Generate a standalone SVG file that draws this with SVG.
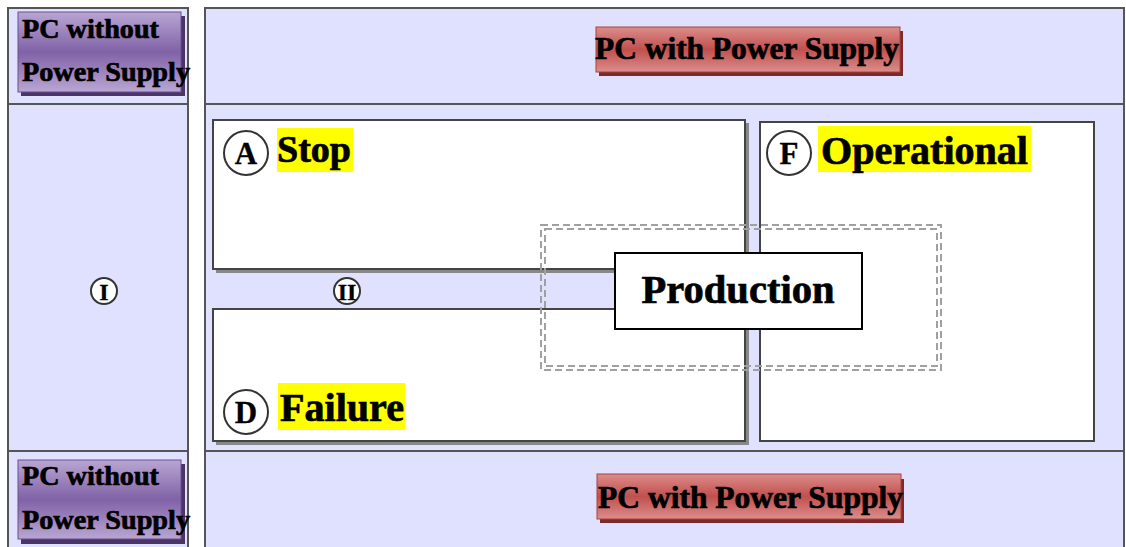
<svg xmlns="http://www.w3.org/2000/svg" width="1126" height="547" viewBox="0 0 1126 547">
  <defs>
    <linearGradient id="purpleFill" x1="0" y1="0" x2="0" y2="1">
      <stop offset="0" stop-color="#b9a6d3"/>
      <stop offset="0.5" stop-color="#8062a6"/>
      <stop offset="1" stop-color="#b9a6d3"/>
    </linearGradient>
    <linearGradient id="redFill" x1="0" y1="0" x2="0" y2="1">
      <stop offset="0" stop-color="#dc8d8b"/>
      <stop offset="0.5" stop-color="#c0504d"/>
      <stop offset="1" stop-color="#dc8d8b"/>
    </linearGradient>
  </defs>
  <style>
    .panel { fill: #e0e0ff; stroke: #555; stroke-width: 2; }
    .divider { stroke: #555; stroke-width: 2; }
    .state { fill: #fff; stroke: #444; stroke-width: 2; }
    .shadow { fill: #888; }
    .lbl { font-family: "Liberation Serif", "Times New Roman", serif; font-weight: bold; fill: #000; stroke: #000; stroke-width: 0.7; }
    .letter { font-family: "Liberation Serif", "Times New Roman", serif; font-weight: bold; fill: #000; stroke: #000; stroke-width: 0.3; }
    .badge { fill: #fff; stroke: #333; stroke-width: 2; }
    .hl { fill: #ffff00; }
    .dash { fill: none; stroke: #a0a0a0; stroke-width: 2; stroke-dasharray: 7 4; }
    .pbtn { fill: url(#purpleFill); stroke: #6a4f8f; stroke-width: 1; }
    .pshadow { fill: #4a3468; }
    .rbtn { fill: url(#redFill); stroke: #a84340; stroke-width: 1; }
    .rshadow { fill: #7a2a28; }
  </style>

  <rect width="1126" height="547" fill="#fff"/>

  <!-- background panels -->
  <g id="left-column">
    <rect class="panel" x="8" y="8" width="180" height="560"/>
    <line class="divider" x1="8" y1="104" x2="188" y2="104"/>
    <line class="divider" x1="8" y1="451" x2="188" y2="451"/>
  </g>
  <g id="right-area">
    <rect class="panel" x="205" y="8" width="919" height="560"/>
    <line class="divider" x1="205" y1="104" x2="1124" y2="104"/>
    <line class="divider" x1="205" y1="451" x2="1124" y2="451"/>
  </g>

  <!-- power supply buttons -->
  <g id="pc-without-top">
    <rect class="pshadow" x="21" y="16" width="164" height="80"/>
    <rect class="pbtn" x="18" y="12" width="163" height="80"/>
    <text class="lbl" x="22" y="38" font-size="28" textLength="137" lengthAdjust="spacingAndGlyphs">PC without</text>
    <text class="lbl" x="22" y="81" font-size="28" textLength="168" lengthAdjust="spacingAndGlyphs">Power Supply</text>
  </g>
  <g id="pc-without-bottom">
    <rect class="pshadow" x="21" y="464" width="164" height="80"/>
    <rect class="pbtn" x="18" y="460" width="163" height="79"/>
    <text class="lbl" x="22" y="485" font-size="28" textLength="137" lengthAdjust="spacingAndGlyphs">PC without</text>
    <text class="lbl" x="22" y="529" font-size="28" textLength="168" lengthAdjust="spacingAndGlyphs">Power Supply</text>
  </g>
  <g id="pc-with-top">
    <rect class="rshadow" x="599" y="31" width="304" height="45"/>
    <rect class="rbtn" x="596" y="27" width="304" height="45"/>
    <text class="lbl" x="595" y="59" font-size="31" textLength="304" lengthAdjust="spacingAndGlyphs">PC with Power Supply</text>
  </g>
  <g id="pc-with-bottom">
    <rect class="rshadow" x="600" y="479" width="304" height="44"/>
    <rect class="rbtn" x="597" y="474" width="304" height="45"/>
    <text class="lbl" x="598" y="508" font-size="31" textLength="305" lengthAdjust="spacingAndGlyphs">PC with Power Supply</text>
  </g>

  <!-- state boxes -->
  <g id="state-stop">
    <rect class="shadow" x="216" y="123" width="533" height="150"/>
    <rect class="state" x="213" y="120" width="532" height="149"/>
    <circle class="badge" cx="246" cy="153" r="22"/>
    <text class="letter" x="246" y="164" font-size="31" text-anchor="middle">A</text>
    <rect class="hl" x="277" y="128" width="76" height="44"/>
    <text class="lbl" x="277" y="162" font-size="37" textLength="74" lengthAdjust="spacingAndGlyphs">Stop</text>
  </g>
  <g id="state-failure">
    <rect class="shadow" x="216" y="312" width="533" height="133"/>
    <rect class="state" x="213" y="309" width="532" height="132"/>
    <circle class="badge" cx="246" cy="412" r="22"/>
    <text class="letter" x="246" y="423" font-size="31" text-anchor="middle">D</text>
    <rect class="hl" x="278" y="383" width="127" height="47"/>
    <text class="lbl" x="280" y="421" font-size="39" textLength="124" lengthAdjust="spacingAndGlyphs">Failure</text>
  </g>
  <g id="state-operational">
    <rect class="state" x="760" y="122" width="334" height="319"/>
    <circle class="badge" cx="789" cy="153" r="22"/>
    <text class="letter" x="789" y="164" font-size="31" text-anchor="middle">F</text>
    <rect class="hl" x="818" y="126" width="213" height="46"/>
    <text class="lbl" x="821" y="164" font-size="40" textLength="207" lengthAdjust="spacingAndGlyphs">Operational</text>
  </g>

  <!-- roman numeral markers -->
  <g id="marker-i">
    <circle class="badge" cx="104" cy="291" r="13"/>
    <text class="letter" x="104" y="300" font-size="24" text-anchor="middle">I</text>
  </g>
  <g id="marker-ii">
    <circle class="badge" cx="347" cy="291" r="13"/>
    <text class="letter" x="347" y="300" font-size="24" text-anchor="middle">II</text>
  </g>

  <!-- production grouping -->
  <g id="production">
    <rect class="dash" x="541" y="225" width="400" height="145"/>
    <rect class="dash" x="545" y="229" width="392" height="137"/>
    <rect x="615" y="253" width="247" height="76" fill="#fff" stroke="#000" stroke-width="2"/>
    <text class="lbl" x="738" y="303" font-size="40" text-anchor="middle" textLength="193" lengthAdjust="spacingAndGlyphs">Production</text>
  </g>

  <g id="connectors"></g>
</svg>
